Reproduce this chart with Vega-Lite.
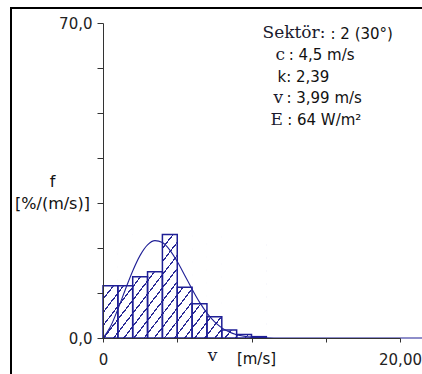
{
  "$schema": "https://vega.github.io/schema/vega-lite/v6.json",
  "autosize": "none",
  "width": 411,
  "height": 366,
  "padding": {"left": 11, "top": 8, "right": 0, "bottom": 0},
  "background": "white",
  "config": {
    "view": {"stroke": "#000000", "strokeWidth": 2, "strokeDash": [411, 777, 366]}
  },
  "datasets": {
    "bins": [
      {"v0": 0, "v1": 1, "f": 11.6},
      {"v0": 1, "v1": 2, "f": 11.6},
      {"v0": 2, "v1": 3, "f": 13.6},
      {"v0": 3, "v1": 4, "f": 14.7},
      {"v0": 4, "v1": 5, "f": 23.0},
      {"v0": 5, "v1": 6, "f": 11.3},
      {"v0": 6, "v1": 7, "f": 7.6},
      {"v0": 7, "v1": 8, "f": 4.7},
      {"v0": 8, "v1": 9, "f": 1.8},
      {"v0": 9, "v1": 10, "f": 0.8},
      {"v0": 10, "v1": 11, "f": 0.3}
    ],
    "curve": [
      {"v": 0, "f": 0},
      {"v": 0.5, "f": 2.49},
      {"v": 1, "f": 6.39},
      {"v": 1.5, "f": 10.73},
      {"v": 2, "f": 14.9},
      {"v": 2.5, "f": 18.36},
      {"v": 3, "f": 20.69},
      {"v": 3.5, "f": 21.64},
      {"v": 4, "f": 21.2},
      {"v": 4.5, "f": 19.54},
      {"v": 5, "f": 16.99},
      {"v": 5.5, "f": 13.96},
      {"v": 6, "f": 10.85},
      {"v": 6.5, "f": 7.97},
      {"v": 7, "f": 5.54},
      {"v": 7.5, "f": 3.64},
      {"v": 8, "f": 2.26},
      {"v": 8.5, "f": 1.33},
      {"v": 9, "f": 0.74},
      {"v": 9.5, "f": 0.39},
      {"v": 10, "f": 0.19},
      {"v": 10.5, "f": 0.09},
      {"v": 11, "f": 0.04},
      {"v": 12, "f": 0},
      {"v": 16, "f": 0},
      {"v": 22, "f": 0}
    ]
  },
  "layer": [
    {
      "data": {"name": "bins"},
      "transform": [
        {"aggregate": [
          {"op": "min", "field": "v0", "as": "lo"},
          {"op": "max", "field": "v1", "as": "hi"},
          {"op": "max", "field": "f", "as": "top"}
        ]}
      ],
      "mark": {
        "type": "rect",
        "fill": {
          "gradient": "linear", "x1": 0, "y1": 0, "x2": 1.2019, "y2": 0.5857,
          "stops": [
            {"offset": 0, "color": "#ffffff"}, {"offset": 0.0354, "color": "#ffffff"}, {"offset": 0.0354, "color": "#2a2a96"}, {"offset": 0.0417, "color": "#2a2a96"},
            {"offset": 0.0417, "color": "#ffffff"}, {"offset": 0.0771, "color": "#ffffff"}, {"offset": 0.0771, "color": "#2a2a96"}, {"offset": 0.0833, "color": "#2a2a96"},
            {"offset": 0.0833, "color": "#ffffff"}, {"offset": 0.1188, "color": "#ffffff"}, {"offset": 0.1188, "color": "#2a2a96"}, {"offset": 0.125, "color": "#2a2a96"},
            {"offset": 0.125, "color": "#ffffff"}, {"offset": 0.1604, "color": "#ffffff"}, {"offset": 0.1604, "color": "#2a2a96"}, {"offset": 0.1667, "color": "#2a2a96"},
            {"offset": 0.1667, "color": "#ffffff"}, {"offset": 0.2021, "color": "#ffffff"}, {"offset": 0.2021, "color": "#2a2a96"}, {"offset": 0.2083, "color": "#2a2a96"},
            {"offset": 0.2083, "color": "#ffffff"}, {"offset": 0.2438, "color": "#ffffff"}, {"offset": 0.2438, "color": "#2a2a96"}, {"offset": 0.25, "color": "#2a2a96"},
            {"offset": 0.25, "color": "#ffffff"}, {"offset": 0.2854, "color": "#ffffff"}, {"offset": 0.2854, "color": "#2a2a96"}, {"offset": 0.2917, "color": "#2a2a96"},
            {"offset": 0.2917, "color": "#ffffff"}, {"offset": 0.3271, "color": "#ffffff"}, {"offset": 0.3271, "color": "#2a2a96"}, {"offset": 0.3333, "color": "#2a2a96"},
            {"offset": 0.3333, "color": "#ffffff"}, {"offset": 0.3688, "color": "#ffffff"}, {"offset": 0.3688, "color": "#2a2a96"}, {"offset": 0.375, "color": "#2a2a96"},
            {"offset": 0.375, "color": "#ffffff"}, {"offset": 0.4104, "color": "#ffffff"}, {"offset": 0.4104, "color": "#2a2a96"}, {"offset": 0.4167, "color": "#2a2a96"},
            {"offset": 0.4167, "color": "#ffffff"}, {"offset": 0.4521, "color": "#ffffff"}, {"offset": 0.4521, "color": "#2a2a96"}, {"offset": 0.4583, "color": "#2a2a96"},
            {"offset": 0.4583, "color": "#ffffff"}, {"offset": 0.4938, "color": "#ffffff"}, {"offset": 0.4938, "color": "#2a2a96"}, {"offset": 0.5, "color": "#2a2a96"},
            {"offset": 0.5, "color": "#ffffff"}, {"offset": 0.5354, "color": "#ffffff"}, {"offset": 0.5354, "color": "#2a2a96"}, {"offset": 0.5417, "color": "#2a2a96"},
            {"offset": 0.5417, "color": "#ffffff"}, {"offset": 0.5771, "color": "#ffffff"}, {"offset": 0.5771, "color": "#2a2a96"}, {"offset": 0.5833, "color": "#2a2a96"},
            {"offset": 0.5833, "color": "#ffffff"}, {"offset": 0.6188, "color": "#ffffff"}, {"offset": 0.6188, "color": "#2a2a96"}, {"offset": 0.625, "color": "#2a2a96"},
            {"offset": 0.625, "color": "#ffffff"}, {"offset": 0.6604, "color": "#ffffff"}, {"offset": 0.6604, "color": "#2a2a96"}, {"offset": 0.6667, "color": "#2a2a96"},
            {"offset": 0.6667, "color": "#ffffff"}, {"offset": 0.7021, "color": "#ffffff"}, {"offset": 0.7021, "color": "#2a2a96"}, {"offset": 0.7083, "color": "#2a2a96"},
            {"offset": 0.7083, "color": "#ffffff"}, {"offset": 0.7438, "color": "#ffffff"}, {"offset": 0.7438, "color": "#2a2a96"}, {"offset": 0.75, "color": "#2a2a96"},
            {"offset": 0.75, "color": "#ffffff"}, {"offset": 0.7854, "color": "#ffffff"}, {"offset": 0.7854, "color": "#2a2a96"}, {"offset": 0.7917, "color": "#2a2a96"},
            {"offset": 0.7917, "color": "#ffffff"}, {"offset": 0.8271, "color": "#ffffff"}, {"offset": 0.8271, "color": "#2a2a96"}, {"offset": 0.8333, "color": "#2a2a96"},
            {"offset": 0.8333, "color": "#ffffff"}, {"offset": 0.8688, "color": "#ffffff"}, {"offset": 0.8688, "color": "#2a2a96"}, {"offset": 0.875, "color": "#2a2a96"},
            {"offset": 0.875, "color": "#ffffff"}, {"offset": 0.9104, "color": "#ffffff"}, {"offset": 0.9104, "color": "#2a2a96"}, {"offset": 0.9167, "color": "#2a2a96"},
            {"offset": 0.9167, "color": "#ffffff"}, {"offset": 0.9521, "color": "#ffffff"}, {"offset": 0.9521, "color": "#2a2a96"}, {"offset": 0.9583, "color": "#2a2a96"},
            {"offset": 0.9583, "color": "#ffffff"}, {"offset": 0.9938, "color": "#ffffff"}, {"offset": 0.9938, "color": "#2a2a96"}, {"offset": 1, "color": "#2a2a96"}
          ]
        }
      },
      "encoding": {
        "x": {
          "field": "lo", "type": "quantitative",
          "scale": {"domain": [0, 20], "range": [92, 389], "nice": false, "zero": false},
          "axis": {
            "zindex": 2,
            "values": [0, 5, 10, 15, 20],
            "labelExpr": "datum.value == 0 ? '0' : datum.value == 20 ? '20,00' : ''",
            "offset": -36,
            "domainColor": "#333333", "tickColor": "#333333", "tickSize": 4,
            "labelFont": "DejaVu Sans", "labelFontSize": 15, "labelColor": "#222222",
            "labelBaseline": "middle", "labelPadding": 17, "labelFlush": false, "labelOverlap": false, "labelBound": false,
            "grid": false,
            "title": "[m/s]", "titleFont": "DejaVu Sans", "titleFontSize": 15, "titleFontWeight": "normal", "titleColor": "#111111",
            "titleX": 245, "titleY": 20, "titleAlign": "center", "titleBaseline": "middle"
          }
        },
        "x2": {"field": "hi"},
        "y": {
          "field": "top", "type": "quantitative",
          "scale": {"domain": [0, 70], "range": [330, 15], "nice": false},
          "axis": {
            "zindex": 2,
            "values": [0, 10, 20, 30, 40, 50, 60, 70],
            "labelExpr": "datum.value == 0 ? '0,0' : datum.value == 70 ? '70,0' : ''",
            "offset": -92,
            "domainColor": "#333333", "tickColor": "#333333", "tickSize": 6,
            "labelFont": "DejaVu Sans", "labelFontSize": 15, "labelColor": "#222222",
            "labelPadding": 5, "labelOverlap": false, "labelBound": false, "labelFlush": false,
            "grid": false,
            "title": ["f", "[%/(m/s)]"], "titleFont": "DejaVu Sans", "titleFontSize": 16, "titleFontWeight": "normal", "titleColor": "#111111",
            "titleAngle": 0, "titleX": -51, "titleY": 173, "titleAlign": "center", "titleBaseline": "middle", "titleLineHeight": 22
          }
        },
        "y2": {"datum": 0}
      }
    },
    {
      "data": {"name": "bins"},
      "transform": [{"joinaggregate": [{"op": "max", "field": "f", "as": "top"}]}],
      "mark": {"type": "rect", "fill": "#ffffff", "stroke": "#ffffff", "strokeWidth": 1},
      "encoding": {
        "x": {"field": "v0", "type": "quantitative"},
        "x2": {"field": "v1"},
        "y": {"field": "f", "type": "quantitative"},
        "y2": {"field": "top"}
      }
    },
    {
      "data": {"name": "bins"},
      "mark": {"type": "rect", "fillOpacity": 0, "stroke": "#1f1f96", "strokeWidth": 1.5},
      "encoding": {
        "x": {"field": "v0", "type": "quantitative"},
        "x2": {"field": "v1"},
        "y": {"field": "f", "type": "quantitative"},
        "y2": {"datum": 0}
      }
    },
    {
      "data": {"name": "curve"},
      "mark": {"type": "line", "stroke": "#1f1f96", "strokeWidth": 1.1, "interpolate": "monotone"},
      "encoding": {
        "x": {"field": "v", "type": "quantitative"},
        "y": {"field": "f", "type": "quantitative"}
      }
    },
    {
      "data": {"values": [{"t": "Sektör:"}]},
      "mark": {"type": "text", "font": "DejaVu Serif", "fontSize": 17, "align": "left", "baseline": "middle", "color": "#1a1a2e"},
      "encoding": {"text": {"field": "t"}, "x": {"datum": 10.74, "type": "quantitative"}, "y": {"datum": 67.8, "type": "quantitative"}}
    },
    {
      "data": {"values": [{"t": ": 2 (30°)"}]},
      "mark": {"type": "text", "font": "DejaVu Sans", "fontSize": 15, "align": "left", "baseline": "middle", "color": "#111111"},
      "encoding": {"text": {"field": "t"}, "x": {"datum": 15.32, "type": "quantitative"}, "y": {"datum": 67.6, "type": "quantitative"}}
    },
    {
      "data": {"values": [{"t": "c"}]},
      "mark": {"type": "text", "font": "DejaVu Serif", "fontSize": 17, "align": "left", "baseline": "middle", "color": "#1a1a2e"},
      "encoding": {"text": {"field": "t"}, "x": {"datum": 11.62, "type": "quantitative"}, "y": {"datum": 62.96, "type": "quantitative"}}
    },
    {
      "data": {"values": [{"t": ": 4,5 m/s"}]},
      "mark": {"type": "text", "font": "DejaVu Sans", "fontSize": 15, "align": "left", "baseline": "middle", "color": "#111111"},
      "encoding": {"text": {"field": "t"}, "x": {"datum": 12.5, "type": "quantitative"}, "y": {"datum": 62.96, "type": "quantitative"}}
    },
    {
      "data": {"values": [{"t": "k: 2,39"}]},
      "mark": {"type": "text", "font": "DejaVu Sans", "fontSize": 15, "align": "left", "baseline": "middle", "color": "#111111"},
      "encoding": {"text": {"field": "t"}, "x": {"datum": 11.75, "type": "quantitative"}, "y": {"datum": 58.1, "type": "quantitative"}}
    },
    {
      "data": {"values": [{"t": "v"}]},
      "mark": {"type": "text", "font": "DejaVu Serif", "fontSize": 17, "align": "left", "baseline": "middle", "color": "#1a1a2e"},
      "encoding": {"text": {"field": "t"}, "x": {"datum": 11.48, "type": "quantitative"}, "y": {"datum": 53.4, "type": "quantitative"}}
    },
    {
      "data": {"values": [{"t": ": 3,99 m/s"}]},
      "mark": {"type": "text", "font": "DejaVu Sans", "fontSize": 15, "align": "left", "baseline": "middle", "color": "#111111"},
      "encoding": {"text": {"field": "t"}, "x": {"datum": 12.35, "type": "quantitative"}, "y": {"datum": 53.4, "type": "quantitative"}}
    },
    {
      "data": {"values": [{"t": "E"}]},
      "mark": {"type": "text", "font": "DejaVu Serif", "fontSize": 17, "align": "left", "baseline": "middle", "color": "#1a1a2e"},
      "encoding": {"text": {"field": "t"}, "x": {"datum": 11.28, "type": "quantitative"}, "y": {"datum": 48.5, "type": "quantitative"}}
    },
    {
      "data": {"values": [{"t": ": 64 W/m²"}]},
      "mark": {"type": "text", "font": "DejaVu Sans", "fontSize": 15, "align": "left", "baseline": "middle", "color": "#111111"},
      "encoding": {"text": {"field": "t"}, "x": {"datum": 12.4, "type": "quantitative"}, "y": {"datum": 48.5, "type": "quantitative"}}
    },
    {
      "data": {"values": [{"t": "v"}]},
      "mark": {"type": "text", "font": "DejaVu Serif", "fontSize": 17, "align": "center", "baseline": "middle", "color": "#1a1a2e"},
      "encoding": {"text": {"field": "t"}, "x": {"datum": 7.37, "type": "quantitative"}, "y": {"datum": -3.93, "type": "quantitative"}}
    }
  ]
}
